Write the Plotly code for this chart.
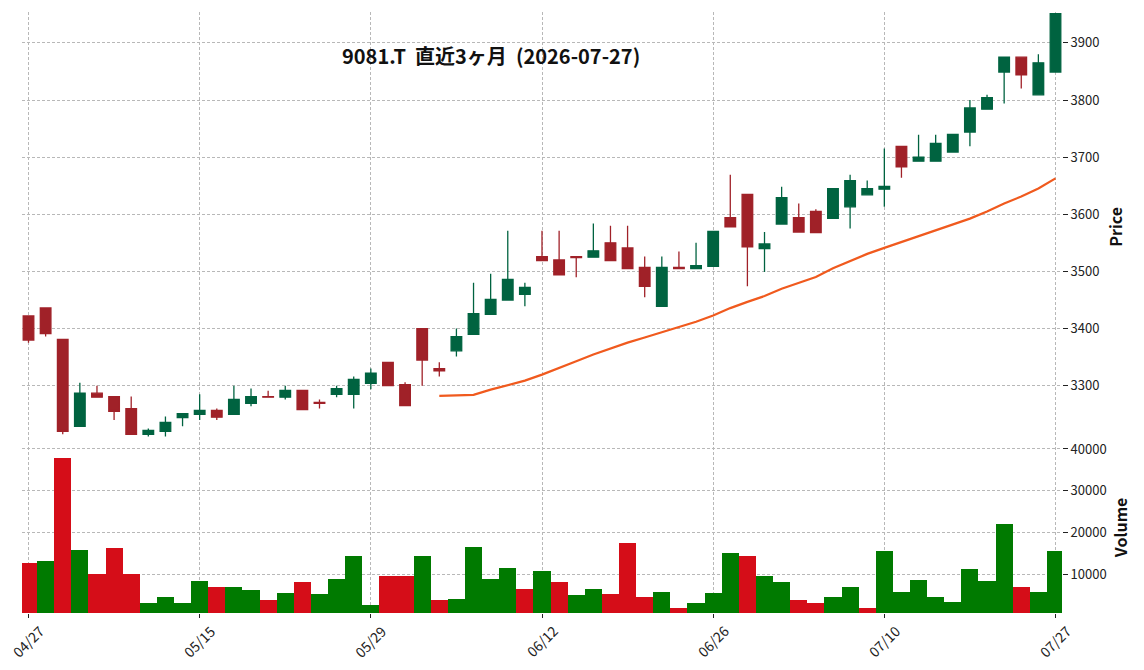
import plotly.graph_objects as go
from plotly.subplots import make_subplots
import pandas as pd

dates = ["04/27","04/28","04/30","05/01","05/07","05/08","05/11","05/12","05/13","05/14",
         "05/15","05/18","05/19","05/20","05/21","05/22","05/25","05/26","05/27","05/28",
         "05/29","06/01","06/02","06/03","06/04","06/05","06/08","06/09","06/10","06/11",
         "06/12","06/15","06/16","06/17","06/18","06/19","06/22","06/23","06/24","06/25",
         "06/26","06/29","06/30","07/01","07/02","07/03","07/06","07/07","07/08","07/09",
         "07/10","07/13","07/14","07/15","07/16","07/17","07/21","07/22","07/23","07/24",
         "07/27"]

opens = [3422,3436,3381,3229,3287,3281,3260,3215,3220,3244,
         3250,3257,3250,3269,3281,3280,3292,3271,3285,3285,
         3304,3341,3302,3400,3330,3361,3390,3425,3450,3460,
         3526,3520,3526,3525,3550,3541,3507,3439,3507,3505,
         3509,3594,3635,3540,3583,3594,3605,3593,3613,3634,
         3644,3719,3693,3693,3709,3744,3784,3849,3875,3809,
         3849]
highs = [3422,3436,3381,3305,3300,3281,3281,3225,3246,3251,
         3285,3260,3300,3295,3291,3300,3292,3276,3300,3316,
         3330,3341,3306,3400,3341,3400,3480,3496,3571,3480,
         3571,3571,3526,3584,3580,3580,3526,3526,3535,3550,
         3571,3669,3635,3569,3648,3619,3609,3645,3669,3659,
         3715,3719,3739,3739,3740,3800,3809,3875,3875,3880,
         3951]
lows = [3375,3386,3215,3229,3280,3240,3215,3211,3211,3229,
        3240,3240,3250,3264,3280,3276,3258,3260,3280,3260,
        3294,3300,3265,3300,3316,3351,3390,3425,3450,3439,
        3519,3494,3490,3525,3519,3505,3455,3439,3505,3505,
        3509,3578,3474,3499,3583,3569,3568,3593,3575,3634,
        3613,3664,3693,3693,3709,3719,3784,3794,3820,3809,
        3849]
closes = [3380,3391,3220,3287,3280,3255,3215,3222,3236,3251,
          3257,3245,3276,3281,3280,3292,3258,3269,3295,3311,
          3322,3300,3265,3345,3326,3386,3426,3451,3486,3472,
          3519,3494,3524,3536,3519,3505,3474,3507,3505,3510,
          3570,3578,3543,3548,3629,3569,3568,3645,3659,3645,
          3649,3683,3700,3724,3740,3786,3804,3875,3844,3865,
          3951]
volumes = [12900,13400,37900,16000,10100,16300,10300,3200,4600,3200,
           8400,7200,7200,6300,3900,5600,8200,5300,9100,14400,
           2700,9800,9600,14400,3900,4100,16700,9100,11700,6500,
           10800,8200,5100,6700,5300,17700,4800,5800,2000,3200,
           5600,15100,14400,9600,8200,3900,3200,4800,7200,2000,
           15600,6000,8700,4600,3400,11500,8400,22200,7200,5800,
           15800]

tick_labels = ["04/27", "05/15", "05/29", "06/12", "06/26", "07/10", "07/27"]
title_text = "9081.T\u00a0\u00a0直近3ヶ月\u00a0\u00a0(2026-07-27)"
ma_window = 25

UP, DOWN = "#006340", "#A02128"
VUP, VDOWN = "#007a00", "#d50d18"
GRID = "#b8b8b8"
FONT = "Noto Sans CJK JP"

ma = pd.Series(closes).rolling(ma_window).mean()
vcolors = [VDOWN] + [VUP if closes[i] >= closes[i - 1] else VDOWN for i in range(1, len(closes))]

fig = make_subplots(rows=2, cols=1, shared_xaxes=True, vertical_spacing=0,
                    row_heights=[0.715, 0.285])

fig.add_trace(go.Candlestick(
    x=dates, open=opens, high=highs, low=lows, close=closes,
    increasing=dict(line=dict(color=UP, width=1.3), fillcolor=UP),
    decreasing=dict(line=dict(color=DOWN, width=1.3), fillcolor=DOWN),
    whiskerwidth=0, showlegend=False), row=1, col=1)

fig.add_trace(go.Scatter(x=dates, y=ma, mode="lines",
                         line=dict(color="#F05A1E", width=2.2),
                         showlegend=False, hoverinfo="skip"), row=1, col=1)

fig.add_trace(go.Bar(x=dates, y=volumes, marker=dict(color=vcolors, line=dict(width=0)),
                     width=1.0, showlegend=False), row=2, col=1)

axis_common = dict(showgrid=True, gridcolor=GRID, griddash="3px,2px", gridwidth=0.8,
                   zeroline=False, showline=False, automargin=False)

fig.update_xaxes(type="category", range=[-0.38, 60.38], categoryorder="array",
                 categoryarray=dates, tickvals=tick_labels, ticktext=tick_labels,
                 rangeslider_visible=False, showticklabels=False, **axis_common)
fig.update_xaxes(ticks="", row=1, col=1)
fig.update_xaxes(ticks="outside", ticklen=4, tickwidth=1, tickcolor="#222", row=2, col=1)

# rotated date labels centred under their ticks
for lab in tick_labels:
    fig.add_annotation(text=lab, xref="x2", yref="paper", x=lab, y=-0.0474,
                       xanchor="center", yanchor="middle", textangle=-45,
                       showarrow=False, font=dict(size=14, color="#222", family=FONT))

fig.update_yaxes(side="right", ticks="outside", ticklen=5, tickwidth=1, tickcolor="#222",
                 tickfont=dict(size=13, color="#222"), **axis_common)
fig.update_yaxes(range=[3202, 3954], tickvals=[3300, 3400, 3500, 3600, 3700, 3800, 3900],
                 title=dict(text="Price", font=dict(size=16, color="#111", weight="bold"),
                            standoff=12),
                 row=1, col=1)
fig.update_yaxes(range=[800, 41740], tickvals=[10000, 20000, 30000, 40000], tickformat="d",
                 title=dict(text="Volume", font=dict(size=16, color="#111", weight="bold"),
                            standoff=10),
                 row=2, col=1)

fig.add_annotation(text=title_text, xref="paper", yref="paper", x=0.451, y=0.928,
                   xanchor="center", yanchor="middle", showarrow=False,
                   font=dict(size=20, color="#111", family=FONT, weight="bold"))

fig.update_layout(width=1144, height=670, margin=dict(l=22, r=82, t=12, b=57),
                  paper_bgcolor="white", plot_bgcolor="white",
                  font=dict(family=FONT, color="#222"),
                  boxgap=0.38, boxgroupgap=0, bargap=0, hovermode=False)

fig.write_html("out.html")
